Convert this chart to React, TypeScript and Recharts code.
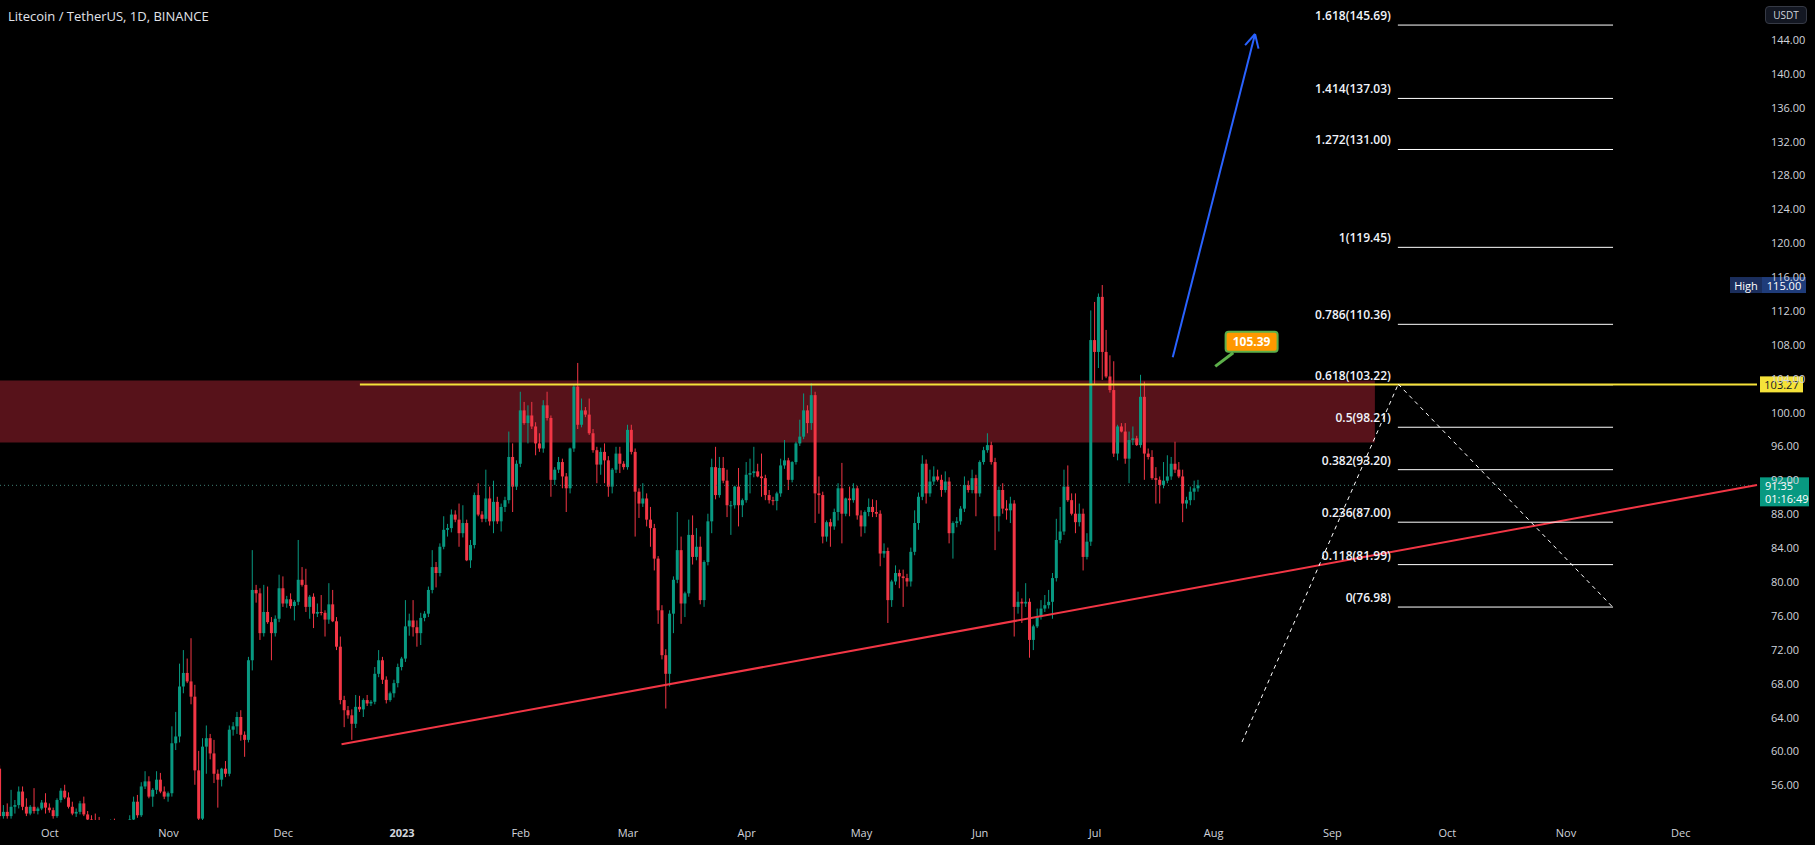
import React from 'react'
import {
  ComposedChart,
  Bar,
  XAxis,
  YAxis,
  ReferenceLine,
  ReferenceArea,
  ReferenceDot,
} from 'recharts'

const W = 1815
const H = 845

const GREEN = '#089981'
const RED = '#F23645'
const YELLOW = '#F5E23A'
const BLUE = '#2962FF'
const TEXT = '#D1D4DC'
const FONT = '"Open Sans", Roboto, sans-serif'

// x = days counted from 1 Oct 2022, first candle is 18 Sep 2022
const FIRST_DAY = -13
const FIRST_OPEN = 57.9
const X_DOMAIN = [-13, 445.9]
const Y_DOMAIN = [51.84, 148.65]

// daily closes, one row per month (open = previous close)
const closes = [
  52.3, 52.8, 52.3, 53.4, 53.6, 55.2, 53.4, 52.6, 53.4, 52.9, 53.2, 53.9, 53.3, // sep
  53.0, 52.3, 54.2, 55.3, 54.5, 53.4, 52.6, 52.8, 53.8, 52.5, 51.9, 51.6, 51.5, 51.3, 51.0, 51.2, 51.4, 51.3, 51.1, 50.9, 51.2, 51.9, 54.0, 52.4, 55.8, 56.4, 54.6, 55.4, 56.6, 55.2, 54.6, // oct
  55.0, 60.9, 61.7, 67.6, 69.2, 68.2, 66.4, 57.7, 52.0, 60.5, 61.5, 59.7, 57.3, 56.6, 57.9, 57.3, 62.5, 62.9, 64.0, 61.9, 61.3, 70.7, 79.0, 78.6, 73.9, 76.4, 75.2, 73.9, 75.6, 79.2, // nov
  77.4, 77.9, 77.1, 77.6, 80.2, 79.6, 77.0, 78.2, 76.2, 76.4, 76.3, 75.5, 77.3, 75.3, 72.3, 66.0, 64.8, 64.2, 63.2, 65.2, 64.9, 66.0, 65.6, 65.8, 69.1, 70.7, 68.4, 66.0, 66.8, 68.0, 69.9, // dec
  70.9, 74.7, 75.4, 74.6, 73.9, 75.7, 76.2, 79.0, 81.7, 81.0, 84.1, 86.1, 86.3, 87.9, 87.3, 85.7, 86.9, 82.5, 84.3, 90.2, 87.9, 87.4, 89.8, 87.1, 89.4, 87.1, 88.8, 89.6, 94.7, 91.2, 93.9, // jan
  100.2, 98.7, 99.6, 98.3, 96.3, 95.7, 100.8, 99.3, 92.0, 93.2, 94.1, 92.4, 91.0, 95.7, 103.0, 98.5, 100.2, 99.7, 97.5, 95.5, 93.8, 95.3, 94.3, 91.2, 93.2, 95.1, 93.9, 93.5, // feb
  97.9, 95.3, 90.6, 89.2, 89.8, 87.3, 86.3, 82.7, 76.6, 71.3, 69.1, 76.2, 80.2, 83.7, 77.4, 78.6, 85.5, 82.9, 84.1, 77.8, 82.3, 87.1, 93.5, 90.2, 93.4, 91.9, 89.0, 89.0, 91.2, 89.0, 89.6, // mar
  92.6, 92.8, 93.0, 92.4, 92.2, 90.2, 89.6, 89.5, 90.4, 93.7, 94.3, 92.0, 94.1, 96.3, 97.1, 100.2, 98.7, 102.0, 90.4, 90.2, 85.3, 87.0, 86.5, 88.2, 91.0, 88.0, 89.8, 89.6, 91.0, 87.8, // apr
  86.5, 88.2, 88.8, 88.2, 88.0, 83.3, 83.6, 77.8, 80.0, 81.0, 80.6, 80.4, 80.0, 83.5, 86.9, 90.0, 93.9, 90.4, 91.8, 92.4, 92.0, 90.8, 91.8, 85.7, 86.9, 87.1, 88.6, 91.4, 90.8, 92.2, 90.4, // may
  94.1, 95.5, 96.1, 94.1, 87.7, 90.8, 88.6, 88.4, 89.2, 77.0, 77.6, 77.4, 77.6, 73.1, 74.7, 75.8, 76.8, 77.2, 77.6, 80.4, 84.9, 85.9, 91.2, 89.6, 88.0, 87.0, 88.0, 82.9, 84.7, 108.5, // jun
  107.1, 113.6, 107.1, 104.2, 102.6, 95.1, 98.3, 97.7, 94.5, 96.7, 96.9, 96.1, 101.8, 95.1, 94.7, 92.2, 92.0, 91.4, 91.9, 92.4, 93.9, 93.2, 92.4, 89.2, 89.6, 90.6, 91.0, 91.35, // jul
]

const highs = [
  58.3, 53.6, 53.8, 55.4, 54.2, 55.8, 55.8, 54.4, 53.6, 55.6, 53.4, 54.2, 55.0,
  53.8, 53.3, 54.4, 55.6, 56.0, 55.1, 54.0, 53.2, 54.1, 54.6, 52.9, 52.4, 52.6, 52.2, 51.7, 51.6, 51.9, 52.0, 51.7, 51.6, 51.5, 52.4, 54.6, 54.8, 56.3, 57.6, 57.0, 55.6, 57.6, 57.4, 55.8,
  55.2, 62.9, 64.6, 70.3, 71.9, 70.9, 73.3, 67.8, 60.0, 61.5, 63.0, 62.0, 61.3, 57.8, 58.0, 58.8, 63.0, 63.4, 64.6, 64.8, 62.3, 71.1, 83.7, 79.6, 79.2, 79.6, 79.4, 75.8, 76.0, 80.8,
  80.6, 78.3, 78.6, 77.8, 84.9, 81.7, 81.5, 78.4, 78.6, 77.4, 78.4, 76.6, 79.8, 79.0, 75.8, 73.5, 66.5, 65.3, 64.9, 66.6, 66.5, 66.2, 66.6, 66.0, 69.9, 71.9, 71.1, 68.8, 67.0, 68.4, 70.3,
  71.1, 77.8, 76.2, 77.8, 75.4, 76.3, 76.5, 79.4, 83.7, 82.3, 84.5, 87.7, 86.8, 88.5, 88.4, 89.2, 89.0, 87.3, 84.9, 90.5, 91.6, 88.3, 93.2, 91.2, 91.9, 90.0, 89.2, 90.0, 97.7, 96.3, 94.3,
  102.4, 101.2, 100.8, 101.2, 98.8, 97.5, 101.4, 102.4, 99.6, 93.5, 94.7, 94.5, 92.8, 95.8, 103.2, 105.8, 101.6, 100.6, 101.6, 98.0, 95.9, 95.8, 96.3, 94.8, 93.4, 95.9, 95.9, 94.2,
  98.5, 98.5, 95.7, 91.0, 91.6, 90.4, 88.8, 86.8, 83.0, 77.2, 72.0, 76.6, 80.6, 88.2, 85.3, 78.8, 87.3, 87.8, 86.3, 85.3, 82.5, 88.0, 94.5, 95.9, 94.7, 94.7, 93.2, 89.5, 91.3, 93.4, 89.8,
  94.1, 94.5, 95.9, 93.9, 95.1, 92.6, 90.8, 90.0, 90.6, 94.5, 96.7, 94.6, 94.2, 96.5, 99.1, 102.2, 100.8, 103.4, 102.4, 92.4, 90.6, 87.2, 87.4, 88.6, 91.6, 94.0, 89.9, 91.2, 91.6, 91.3,
  88.4, 88.4, 89.8, 89.7, 89.6, 88.4, 84.5, 84.0, 80.2, 81.9, 81.4, 81.4, 80.9, 84.0, 88.4, 90.5, 94.9, 94.4, 93.2, 93.6, 93.2, 92.6, 93.0, 92.3, 87.1, 87.6, 88.9, 92.4, 91.9, 93.2, 92.6,
  94.3, 95.9, 97.5, 96.5, 94.6, 91.2, 91.6, 89.6, 90.0, 89.6, 78.8, 78.0, 79.8, 78.0, 74.9, 76.8, 77.8, 78.4, 79.0, 81.0, 87.4, 88.8, 93.2, 93.7, 90.4, 90.4, 89.2, 88.6, 85.7, 112.0,
  113.0, 114.0, 115.0, 109.7, 106.7, 106.0, 98.5, 98.7, 98.7, 97.7, 98.3, 97.2, 104.4, 103.6, 95.7, 95.5, 93.5, 92.4, 94.1, 94.9, 94.7, 96.5, 94.1, 93.2, 90.0, 91.2, 91.9, 92.0,
]

const lows = [
  51.9, 52.0, 52.0, 52.0, 52.6, 53.2, 53.0, 52.3, 52.4, 52.6, 52.5, 53.0, 52.6,
  52.7, 52.0, 52.1, 53.9, 54.3, 53.2, 52.4, 52.2, 52.5, 52.3, 51.5, 51.0, 50.8, 50.9, 50.6, 50.5, 50.8, 50.9, 50.7, 50.5, 50.3, 51.0, 51.7, 52.1, 52.2, 55.5, 54.4, 53.4, 54.9, 55.0, 54.3,
  54.0, 54.6, 60.1, 61.0, 66.8, 68.0, 65.5, 56.0, 50.5, 51.5, 57.3, 59.0, 56.2, 53.3, 55.8, 56.9, 57.0, 61.8, 62.0, 61.2, 59.3, 61.0, 69.5, 77.5, 73.1, 73.5, 75.0, 70.7, 73.5, 75.2,
  77.0, 76.9, 76.8, 75.4, 77.2, 79.4, 76.4, 75.6, 74.5, 75.8, 76.0, 73.5, 75.0, 75.2, 71.9, 65.5, 62.8, 63.8, 61.3, 62.7, 64.6, 64.0, 65.3, 65.3, 65.5, 68.7, 67.9, 65.6, 65.8, 66.3, 67.5,
  69.5, 70.5, 73.6, 73.5, 72.3, 72.5, 75.3, 75.8, 78.6, 79.3, 80.6, 83.8, 85.3, 85.8, 87.0, 84.1, 85.2, 82.4, 81.6, 83.9, 87.7, 87.0, 87.0, 86.6, 85.7, 86.8, 85.9, 88.2, 89.2, 88.2, 90.8,
  93.5, 98.5, 96.3, 98.0, 94.9, 95.3, 95.2, 99.0, 90.0, 91.4, 92.8, 91.0, 88.2, 90.4, 95.3, 98.0, 98.2, 99.4, 97.3, 95.2, 91.6, 92.6, 91.6, 90.0, 90.4, 92.8, 92.8, 93.2,
  93.2, 95.0, 85.3, 87.5, 88.8, 86.5, 84.1, 81.3, 75.0, 70.8, 65.0, 67.6, 73.9, 79.8, 75.0, 75.8, 78.2, 82.0, 82.5, 77.3, 77.0, 81.9, 85.7, 89.7, 89.9, 91.6, 87.6, 85.5, 88.6, 86.5, 87.6,
  89.3, 90.4, 92.3, 92.3, 90.0, 89.6, 89.2, 89.0, 88.4, 90.0, 93.3, 90.8, 91.7, 93.8, 96.0, 96.8, 97.5, 97.9, 86.9, 88.0, 84.5, 84.7, 84.1, 86.1, 87.2, 84.5, 87.7, 87.7, 89.3, 87.3,
  85.3, 85.7, 87.7, 87.6, 87.6, 81.8, 82.8, 75.1, 77.0, 79.6, 79.2, 77.0, 79.4, 79.4, 83.1, 86.1, 89.6, 89.2, 90.0, 91.4, 91.8, 90.0, 90.5, 84.5, 82.7, 86.4, 86.7, 88.2, 90.5, 90.4, 87.7,
  90.0, 93.8, 95.2, 93.8, 83.7, 85.9, 88.0, 87.3, 86.9, 73.5, 76.2, 75.1, 77.0, 71.0, 71.9, 74.5, 75.5, 76.4, 76.8, 75.6, 80.0, 84.5, 85.5, 89.4, 87.8, 85.7, 86.5, 81.3, 82.6, 84.2,
  103.2, 105.2, 103.8, 104.0, 102.3, 94.7, 94.3, 97.6, 93.9, 91.6, 96.1, 96.0, 95.8, 92.0, 94.4, 92.0, 89.2, 89.2, 91.0, 91.6, 92.0, 92.8, 92.2, 87.0, 88.6, 89.0, 89.6, 90.6,
]

const monthDays = [0, 31, 61, 92, 123, 151, 182, 212, 243, 273, 304, 335, 365, 396, 426]
const monthNames = ['Oct', 'Nov', 'Dec', '2023', 'Feb', 'Mar', 'Apr', 'May', 'Jun', 'Jul', 'Aug', 'Sep', 'Oct', 'Nov', 'Dec']
const priceTicks = [56, 60, 64, 68, 72, 76, 80, 84, 88, 92, 96, 100, 104, 108, 112, 116, 120, 124, 128, 132, 136, 140, 144]

const fibRatios = ['0', '0.118', '0.236', '0.382', '0.5', '0.618', '0.786', '1', '1.272', '1.414', '1.618']
const fibPrices = [76.98, 81.99, 87.0, 93.2, 98.21, 103.22, 110.36, 119.45, 131.0, 137.03, 145.69]
const FIB_FROM = 352.1
const FIB_TO = 408.3

// drawings, in (day, price)
const resistance = 103.27
const zoneDays = [-13, 346.1]
const zonePrices = [96.4, 103.72]
const supportLine = [{ x: 76.2, y: 60.78 }, { x: 445.9, y: 91.39 }]
const pathUp = [{ x: 311.4, y: 61.05 }, { x: 352.2, y: 103.3 }]
const pathDown = [{ x: 352.2, y: 103.3 }, { x: 408.2, y: 76.98 }]
const arrowShaft = [{ x: 293.3, y: 106.47 }, { x: 314.8, y: 144.64 }]
const arrowWingA = [{ x: 314.8, y: 144.64 }, { x: 312.2, y: 143.33 }]
const arrowWingB = [{ x: 314.8, y: 144.64 }, { x: 315.7, y: 142.91 }]
const calloutLine = [{ x: 304.4, y: 105.39 }, { x: 309.1, y: 107.0 }]
const calloutBox = { x: 313.9, y: 108.31, text: '105.39' }

const lastPrice = 91.35
const countdown = '01:16:49'
const highPrice = 115.0

const candles = closes.map((c, i) => {
  const o = i === 0 ? FIRST_OPEN : closes[i - 1]
  return { d: FIRST_DAY + i, o, c, h: highs[i], l: lows[i], range: [lows[i], highs[i]] }
})

function Candle(props: any) {
  const { x, y, width, height, payload } = props
  if (x == null || y == null || !payload) return null
  const { o, c, h, l } = payload
  const top = Math.min(y, y + height)
  const span = Math.abs(height)
  const toY = (v: number) => (h === l ? top : top + ((h - v) / (h - l)) * span)
  const color = c >= o ? GREEN : RED
  const mid = x + width / 2
  const bodyTop = toY(Math.max(o, c))
  const bodyH = Math.max(1, toY(Math.min(o, c)) - bodyTop)
  return (
    <g>
      <line x1={mid} x2={mid} y1={top} y2={top + span} stroke={color} strokeWidth={1} />
      <rect x={x} y={bodyTop} width={width} height={bodyH} fill={color} />
    </g>
  )
}

function MonthTick(props: any) {
  const { x, y, payload } = props
  const i = monthDays.indexOf(payload.value)
  const label = monthNames[i] ?? ''
  return (
    <text x={x} y={y + 15} textAnchor="middle" fill={TEXT} fontSize={11}
      fontFamily={FONT} fontWeight={label === '2023' ? 700 : 400}>
      {label}
    </text>
  )
}

function PriceTick(props: any) {
  const { x, y, payload } = props
  return (
    <text x={x + 12} y={y} dominantBaseline="central" fill={TEXT} fontSize={11} fontFamily={FONT}>
      {Number(payload.value).toFixed(2)}
    </text>
  )
}

const fibLabel = (name: string, price: number) => (p: any) => (
  <text x={p.cx - 7} y={p.cy - 5} textAnchor="end" fill="#F0F3FA" fontSize={12}
    fontWeight={600} fontFamily={FONT}>
    {`${name}(${price.toFixed(2)})`}
  </text>
)

const highTag = (p: any) => (
  <g fontFamily={FONT} fontSize={11}>
    <rect x={p.cx - 27} y={p.cy - 8} width={32} height={16} fill="#1B2E5C" />
    <rect x={p.cx + 5} y={p.cy - 8} width={44} height={16} fill="#1F3C7A" />
    <text x={p.cx - 11} y={p.cy} textAnchor="middle" dominantBaseline="central" fill="#FFFFFF">High</text>
    <text x={p.cx + 27} y={p.cy} textAnchor="middle" dominantBaseline="central" fill="#FFFFFF">
      {highPrice.toFixed(2)}
    </text>
  </g>
)

const resistanceTag = (p: any) => (
  <g fontFamily={FONT} fontSize={11}>
    <rect x={p.cx + 3} y={p.cy - 8} width={43} height={16} fill={YELLOW} />
    <text x={p.cx + 24.5} y={p.cy} textAnchor="middle" dominantBaseline="central" fill="#131722">
      {resistance.toFixed(2)}
    </text>
  </g>
)

const lastPriceTag = (p: any) => (
  <g fontFamily={FONT} fontSize={11}>
    <rect x={p.cx + 3} y={p.cy - 8} width={49} height={29} fill={GREEN} />
    <text x={p.cx + 8} y={p.cy} dominantBaseline="central" fill="#FFFFFF">{lastPrice.toFixed(2)}</text>
    <text x={p.cx + 8} y={p.cy + 13} dominantBaseline="central" fill="#FFFFFF">{countdown}</text>
  </g>
)

const calloutShape = (p: any) => (
  <g fontFamily={FONT}>
    <rect x={p.cx - 26} y={p.cy - 10} width={52} height={20} rx={3} fill="#FF9800"
      stroke="#5DB04A" strokeWidth={2} />
    <text x={p.cx} y={p.cy} textAnchor="middle" dominantBaseline="central" fill="#FFFFFF"
      fontSize={12} fontWeight={700}>
      {calloutBox.text}
    </text>
  </g>
)

export default function App() {
  return (
    <div style={{ position: 'absolute', left: 0, top: 0, width: W, height: H, background: '#000000', overflow: 'hidden' }}>
      <ComposedChart width={W} height={H} data={candles} margin={{ top: 0, right: 0, bottom: 0, left: 0 }}>
        <XAxis dataKey="d" type="number" domain={X_DOMAIN} allowDataOverflow ticks={monthDays}
          interval={0} tick={MonthTick} tickLine={false} axisLine={false} tickSize={0} height={25} />
        <YAxis orientation="right" type="number" domain={Y_DOMAIN} allowDataOverflow ticks={priceTicks}
          interval={0} tick={PriceTick} tickLine={false} axisLine={false} tickSize={0} width={58} />

        <ReferenceArea x1={zoneDays[0]} x2={zoneDays[1]} y1={zonePrices[0]} y2={zonePrices[1]}
          fill="#C2283A" fillOpacity={0.45} stroke="none" ifOverflow="visible" />
        <ReferenceLine y={lastPrice} stroke="#3E7F74" strokeDasharray="1 3" strokeWidth={1} />

        <Bar dataKey="range" barSize={3} shape={<Candle />} isAnimationActive={false} />

        <ReferenceLine segment={supportLine} stroke={RED} strokeWidth={2} ifOverflow="visible" />

        {fibPrices.map((p, i) => (
          <ReferenceLine key={`fl${i}`} segment={[{ x: FIB_FROM, y: p }, { x: FIB_TO, y: p }]}
            stroke="#FFFFFF" strokeWidth={1} ifOverflow="visible" />
        ))}
        {fibPrices.map((p, i) => (
          <ReferenceDot key={`ft${i}`} x={FIB_FROM} y={p} r={0} ifOverflow="visible"
            shape={fibLabel(fibRatios[i], p)} />
        ))}

        <ReferenceLine segment={[{ x: 81.0, y: resistance }, { x: 445.9, y: resistance }]}
          stroke={YELLOW} strokeWidth={2} ifOverflow="visible" />

        <ReferenceLine segment={pathUp} stroke="#FFFFFF" strokeDasharray="4 4" strokeWidth={1} ifOverflow="visible" />
        <ReferenceLine segment={pathDown} stroke="#FFFFFF" strokeDasharray="4 4" strokeWidth={1} ifOverflow="visible" />

        <ReferenceLine segment={arrowShaft} stroke={BLUE} strokeWidth={2} ifOverflow="visible" />
        <ReferenceLine segment={arrowWingA} stroke={BLUE} strokeWidth={2} ifOverflow="visible" />
        <ReferenceLine segment={arrowWingB} stroke={BLUE} strokeWidth={2} ifOverflow="visible" />

        <ReferenceLine segment={calloutLine} stroke="#5DB04A" strokeWidth={3} ifOverflow="visible" />
        <ReferenceDot x={calloutBox.x} y={calloutBox.y} r={0} ifOverflow="visible" shape={calloutShape} />

        <ReferenceDot x={X_DOMAIN[1]} y={highPrice} r={0} ifOverflow="visible" shape={highTag} />
        <ReferenceDot x={X_DOMAIN[1]} y={resistance} r={0} ifOverflow="visible" shape={resistanceTag} />
        <ReferenceDot x={X_DOMAIN[1]} y={lastPrice} r={0} ifOverflow="visible" shape={lastPriceTag} />
      </ComposedChart>

      <div style={{ position: 'absolute', left: 8, top: 7, color: '#E1E3EA', fontSize: 13, fontFamily: FONT, whiteSpace: 'nowrap' }}>
        Litecoin / TetherUS, 1D, BINANCE
      </div>
      <div style={{
        position: 'absolute', left: 1765, top: 6, width: 42, height: 18, boxSizing: 'border-box',
        border: '1px solid #363A45', borderRadius: 4, background: '#131722', color: TEXT,
        fontSize: 10, fontFamily: FONT, display: 'flex', alignItems: 'center', justifyContent: 'center',
      }}>
        USDT
      </div>
    </div>
  )
}
